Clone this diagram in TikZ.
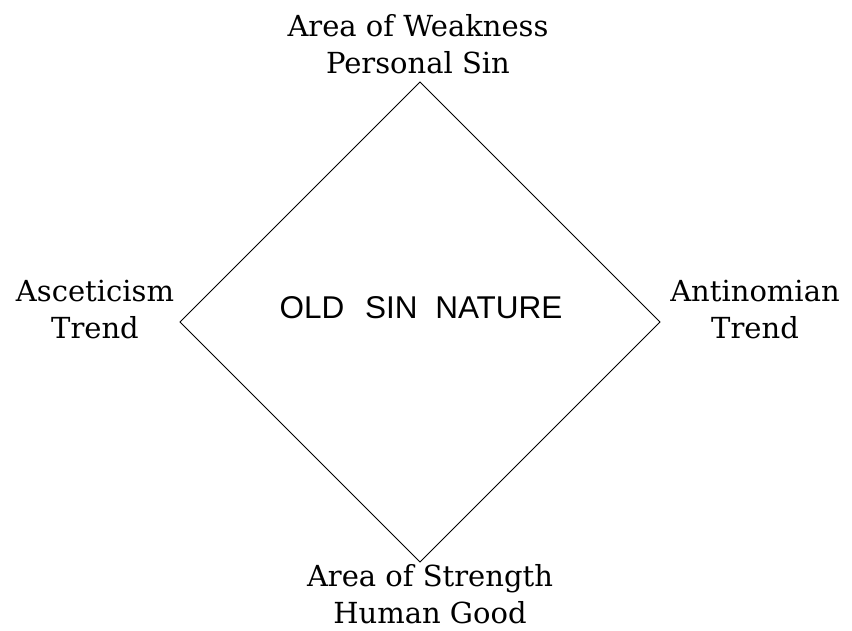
\documentclass[tikz,border=0pt]{standalone}
\usepackage{fontspec}
\setmainfont{DejaVu Serif}
\newfontfamily\labelsans{Liberation Sans}
\usetikzlibrary{positioning}

\begin{document}
\begin{tikzpicture}[x=1pt, y=-1pt,
      every node/.style={text=black},
      trend/.style={align=center, font=\fontsize{29}{37}\selectfont, inner sep=0pt},
      core/.style={font=\labelsans\fontsize{31.5}{36}\selectfont, inner sep=0pt},
      edge/.style={draw=black, line width=0.9pt, line join=miter}
    ]
    \useasboundingbox (0,0) rectangle (852,630);
    % corners of the diamond
    \coordinate (top)    at (420,82);
    \coordinate (left)   at (180,322);
    \coordinate (right)  at (660,322);
    \coordinate (bottom) at (420,562);
    \draw[edge] (top) -- (right) -- (bottom) -- (left) -- cycle;
    \node[core] (nature) at (421,308) {OLD\hspace{0.66em}SIN\hspace{0.56em}NATURE};
    \node[trend] (weak)   at (418,44)  {Area of Weakness\\Personal Sin};
    \node[trend] (ascet)  at (95,310)  {Asceticism\\Trend};
    \node[trend] (antin)  at (755,310) {Antinomian\\Trend};
    \node[trend] (strong) at (430,594) {Area of Strength\\Human Good};
  \end{tikzpicture}
\end{document}
